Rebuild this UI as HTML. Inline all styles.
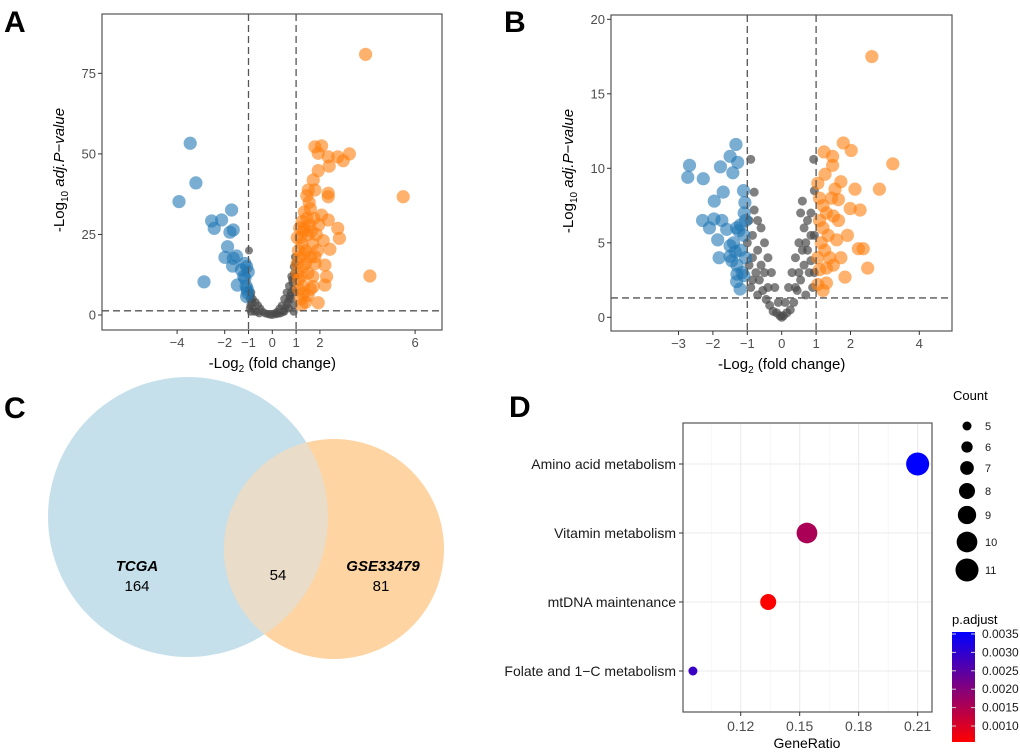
<!DOCTYPE html>
<html><head><meta charset="utf-8"><style>
body{margin:0;background:#fff;}
svg{display:block;font-family:"Liberation Sans",Arial,sans-serif;}
</style></head><body>
<svg id="fig" width="1020" height="752" viewBox="0 0 1020 752">
<text x="4" y="32" font-size="30" font-weight="bold">A</text>
<text x="504" y="32" font-size="30" font-weight="bold">B</text>
<text x="4" y="418" font-size="30" font-weight="bold">C</text>
<text x="509" y="417" font-size="30" font-weight="bold">D</text>
<g id="pa"></g>
<g id="pb"></g>
<g>
<circle cx="188" cy="517" r="140" fill="#c6e0eb"/>
<circle cx="334" cy="549" r="110" fill="#fdd4a2"/>
<clipPath id="cl"><circle cx="188" cy="517" r="140"/></clipPath>
<circle cx="334" cy="549" r="110" fill="#e9dcc8" clip-path="url(#cl)"/>
<text x="137" y="571" font-size="15" font-weight="bold" font-style="italic" text-anchor="middle">TCGA</text>
<text x="137" y="591" font-size="15" text-anchor="middle">164</text>
<text x="278" y="580" font-size="15" text-anchor="middle">54</text>
<text x="383" y="571" font-size="15" font-weight="bold" font-style="italic" text-anchor="middle">GSE33479</text>
<text x="381" y="591" font-size="15" text-anchor="middle">81</text>
</g>
<g id="pd"></g>
</svg>
<script>
const NS="http://www.w3.org/2000/svg";
function mk(p,t,a,txt){const e=document.createElementNS(NS,t);for(const k in a)e.setAttribute(k,a[k]);if(txt!==undefined)e.textContent=txt;p.appendChild(e);return e;}

// Panel A data
const aGrayX=[-0.98,-1,-0.9,-0.85,-0.8,-0.7,-0.6,-0.5,-0.4,-0.3,-0.2,0,0.1,0.2,0.3,0.4,0.5,0.6,0.7,0.8,0.9,0.95,0.85,0.75,0.65,0.55,0.45,0.35,-0.95,-0.75,0.9,0.8,0.95,0.7,-0.65,-0.55,0.15,-0.1,0.25,-0.9,0.9,0.98,-0.95,0.6,0.5,0.97,0.92,0.88,0.83,0.78,0.72,-0.92,-0.88,-0.82];
const aGrayY=[20,8,6,4,2,4,3,2,1,0.5,0.3,0,0.5,1,2,3,5,7,9,12,15,18,10,6,4,2,1,0.5,2,1,3,5,7,2,1,0.5,0.2,0.1,0.4,1,1,12,5,3,1,16,13,8,11,7,5,3,7,5];
const aBlueX=[-3.45,-3.21,-3.92,-2.87,-1.71,-2.13,-2.55,-2.44,-1.64,-1.78,-1.88,-1.99,-1.5,-1.64,-1.67,-1.08,-1.01,-1.15,-1.47,-1.08,-1.05,-1.2,-1.1,-1.3,-1.05,-1.15];
const aBlueY=[53.3,41,35.2,10.3,32.6,29.5,29.2,26.9,26.4,25.7,21.2,17.9,18.3,17.6,15.2,15,13.4,11.4,9.3,5.7,8,12,9,14,7,16];
const aOrX=[3.92,5.5,4.1,1.93,1.79,2.07,1.93,2.35,2.75,3.24,2.98,2.39,1.93,1.72,1.51,1.79,2.35,2.35,2.07,2.35,2.75,2.82,2.14,2.42,1.79,2.21,2.28,2.21,1.72,1.23,1.3,1.1,1.2,1.3,1.15,1.4,1.25,1.5,1.35,1.45,1.6,1.55,1.3,1.2,1.1,1.05,1.4,1.5,1.6,1.7,1.65,1.75,1.55,1.45,1.35,1.25,1.15,1.05,1.1,1.3,1.5,1.7,1.8,1.9,1.85,1.95,1.2,1.4,1.6,1.05,1.35];
const aOrY=[80.9,36.7,12.1,3.8,52.2,52.5,50.2,49.1,49.1,50,47.9,46.2,44.8,41.9,38.8,38.8,37.8,36.7,31,29.5,26.9,23.8,23.1,20.4,18.1,15.5,11.9,9.3,8.8,3.1,6.7,8,12,15,18,20,22,25,27,30,33,28,26,24,20,16,16,13,18,22,26,30,35,37,32,29,27,24,11,9,6,12,16,20,25,28,5,4,8,13,19];
const aXTicks=[-4,-2,-1,0,1,2,6];
const aYTicks=[0,25,50,75];

// Panel B data
const bGrayX=[-0.9,0.93,-0.8,0.6,0.55,-0.8,-0.6,-0.5,-0.4,-0.3,-0.2,-0.1,0,0.1,0.2,0.3,0.4,0.5,0.65,0.75,0.85,0.95,-0.95,-0.85,-0.7,-0.75,-0.65,-0.55,-0.45,-0.35,-0.25,0.25,0.35,0.45,0.55,0.65,0.75,0.85,0.95,0.9,-0.9,-0.95,-0.6,0.6,-0.15,0.15,0.05,-0.05,0.7,-0.7,0.8,-0.85,0.95,-1,-0.5,0.5,0.4,-0.4,-0.7,0.7,-0.85,0.85];
const bGrayY=[10.6,10.6,8.4,7.8,7,7.2,6,5,4,3,2,1,0,1,2,3,4,5,6,6.5,7,8.5,6.5,5.5,4.5,3,2.5,1.8,1.2,0.8,0.4,0.5,1,1.8,2.5,3.5,4.5,5.5,3,2,2,3.5,3.5,4.5,0.3,0.3,0.1,0.1,1.5,1.5,3,4,5.5,5,3,3,2,2,6.5,5,2.5,3.8];
const bBlueX=[-2.68,-2.73,-2.28,-1.78,-1.33,-1.5,-1.28,-1.42,-1.11,-1.7,-1.96,-1.07,-1.09,-2.3,-1.97,-1.74,-2.1,-1.6,-1.86,-1.31,-1.82,-1.5,-1.21,-1.31,-1.1,-1.2,-1.3,-1.15,-1.4,-1.25,-1.05,-1.35,-1.1,-1.45,-1.2,-1.05,-1.5,-1.3];
const bBlueY=[10.2,9.4,9.3,10.1,11.6,10.8,10.4,9.7,8.5,8.4,7.8,7.7,7,6.5,6.6,6.5,6,5.9,5.2,6,4,4.1,1.9,2.4,5.5,4.5,3.5,3,5,5.8,4,4.4,2.8,3.8,6.2,6.5,4.8,2.9];
const bOrX=[2.62,3.23,2.84,1.79,2.02,1.23,1.48,1.48,1.26,1.72,2.13,1.65,1.99,2.28,2.23,2.37,2.5,1.84,1.72,1.91,1.65,1.05,1.1,1.2,1.3,1.1,1.2,1.35,1.15,1.25,1.4,1.05,1.1,1.3,1.5,1.6,1.5,1.45,1.05,1.2,1.3,1.55];
const bOrY=[17.5,10.3,8.6,11.7,11.2,11.1,10.8,10.2,9.6,9.1,8.6,7.9,7.3,7.2,4.6,4.6,3.3,2.7,4,5.5,6.5,9,8,7.5,7,6.5,6,5.5,5,4.5,4,4,3.2,3.3,3.5,5.2,6.8,8,2.2,1.8,2.3,8.6];
const bXTicks=[-3,-2,-1,0,1,2,4];
const bYTicks=[0,5,10,15,20];

function volcano(g,o){
  const sx=v=>o.x0+v*o.ux, sy=v=>o.y0-v*o.uy;
  mk(g,'rect',{x:o.L,y:o.T,width:o.R-o.L,height:o.B-o.T,fill:'#fff',stroke:'#555','stroke-width':1.2});
  const cp=mk(g,'clipPath',{id:o.id+'c'});mk(cp,'rect',{x:o.L,y:o.T,width:o.R-o.L,height:o.B-o.T});
  const pts=mk(g,'g',{'clip-path':'url(#'+o.id+'c)'});
  o.gx.forEach((x,i)=>{const c=mk(pts,'circle',{cx:sx(x),cy:sy(o.gy[i]),r:o.gr,fill:'#4a4a4a','fill-opacity':0.7});
    
    });
  o.bx.forEach((x,i)=>{const c=mk(pts,'circle',{cx:sx(x),cy:sy(o.by[i]),r:6.6,fill:'#1f77b4','fill-opacity':0.6});
    
    });
  o.ox.forEach((x,i)=>{const c=mk(pts,'circle',{cx:sx(x),cy:sy(o.oy[i]),r:6.6,fill:'#ff7f0e','fill-opacity':0.6});
    
    });
  [-1,1].forEach(v=>{const l=mk(g,'line',{x1:sx(v),x2:sx(v),y1:o.T,y2:o.B,stroke:'#555','stroke-width':1.3,'stroke-dasharray':'7,4'});
    
    });
  const h=mk(g,'line',{x1:o.L,x2:o.R,y1:sy(1.3),y2:sy(1.3),stroke:'#555','stroke-width':1.3,'stroke-dasharray':'7,4'});
  
  
  o.xt.forEach(v=>{mk(g,'line',{x1:sx(v),x2:sx(v),y1:o.B,y2:o.B+4,stroke:'#333'});
    const t=mk(g,'text',{x:sx(v),y:o.B+17,'font-size':13,fill:'#4d4d4d','text-anchor':'middle'},v<0?'\u2212'+(-v):String(v));
    
    });
  o.yt.forEach(v=>{mk(g,'line',{x1:o.L-4,x2:o.L,y1:sy(v),y2:sy(v),stroke:'#333'});
    const t=mk(g,'text',{x:o.L-6,y:sy(v)+4.5,'font-size':13,fill:'#4d4d4d','text-anchor':'end'},String(v));
    
    });
  const xt=mk(g,'text',{x:o.x0,y:o.B+38,'font-size':15,'text-anchor':'middle'});
  xt.innerHTML='-Log<tspan font-size="10" dy="4">2</tspan><tspan dy="-4"> (fold change)</tspan>';
  
  
  const cy=(o.T+o.B)/2-2;
  const yt=mk(g,'text',{x:0,y:0,'font-size':15,'text-anchor':'middle',transform:`translate(${o.L-38},${cy}) rotate(-90)`});
  yt.innerHTML='-Log<tspan font-size="10" dy="4">10</tspan><tspan dy="-4" font-style="italic"> adj.P</tspan><tspan font-style="italic">\u2212value</tspan>';
  
  
}
volcano(document.getElementById('pa'),{id:'a',L:102,R:442,T:14,B:330,x0:272.3,ux:23.8,y0:315,uy:3.222,gx:aGrayX,gy:aGrayY,bx:aBlueX,by:aBlueY,ox:aOrX,oy:aOrY,xt:aXTicks,yt:aYTicks,gr:4});
volcano(document.getElementById('pb'),{id:'b',L:611,R:952,T:15,B:331,x0:781.7,ux:34.4,y0:317.3,uy:14.9,gx:bGrayX,gy:bGrayY,bx:bBlueX,by:bBlueY,ox:bOrX,oy:bOrY,xt:bXTicks,yt:bYTicks,gr:4.5});

// Panel D data
const dTerms=['Amino acid metabolism','Vitamin metabolism','mtDNA maintenance','Folate and 1\u2212C metabolism'];
const dRatio=[0.21,0.1537,0.134,0.0957];
const dCount=[11,10,8,5];
const dPadj=[0.0035,0.0017,0.0008,0.0029];
const dXTicks=[0.12,0.15,0.18,0.21];
const dCountLegend=[5,6,7,8,9,10,11];
const dPadjTicks=[0.0035,0.003,0.0025,0.002,0.0015,0.001];
(function(){
  const g=document.getElementById('pd');
  const L=683,R=932,T=423,B=712;
  const sx=v=>740.7+(v-0.12)*1966;
  const sy=i=>464+i*69;
  const rs=c=>4.5+(c-5)*1.17;
  const col=p=>{const t=Math.max(0,Math.min(1,(p-0.0008)/(0.0035-0.0008)));return `rgb(${Math.round(255*(1-t))},0,${Math.round(255*t)})`;};
  mk(g,'rect',{x:L,y:T,width:R-L,height:B-T,fill:'#fff'});
  dXTicks.forEach((v,i)=>{mk(g,'line',{x1:sx(v),x2:sx(v),y1:T,y2:B,stroke:'#ebebeb','stroke-width':1.1});
    if(i<dXTicks.length-1){const m=sx(v+0.015);mk(g,'line',{x1:m,x2:m,y1:T,y2:B,stroke:'#f2f2f2','stroke-width':0.6});}});
  mk(g,'line',{x1:sx(0.105),x2:sx(0.105),y1:T,y2:B,stroke:'#f2f2f2','stroke-width':0.6});
  dTerms.forEach((t,i)=>{mk(g,'line',{x1:L,x2:R,y1:sy(i),y2:sy(i),stroke:'#ebebeb','stroke-width':1.1});});
  mk(g,'rect',{x:L,y:T,width:R-L,height:B-T,fill:'none',stroke:'#555','stroke-width':1.2});
  dTerms.forEach((t,i)=>{
    mk(g,'line',{x1:L-4,x2:L,y1:sy(i),y2:sy(i),stroke:'#333'});
    const tx=mk(g,'text',{x:L-7,y:sy(i)+5,'font-size':14,'text-anchor':'end',fill:'#1a1a1a'},t);
    
    
    const c=mk(g,'circle',{cx:sx(dRatio[i]),cy:sy(i),r:rs(dCount[i]),fill:col(dPadj[i])});
    
    
  });
  dXTicks.forEach(v=>{mk(g,'line',{x1:sx(v),x2:sx(v),y1:B,y2:B+4,stroke:'#333'});
    const t=mk(g,'text',{x:sx(v),y:B+19,'font-size':14,'text-anchor':'middle',fill:'#4d4d4d'},v.toFixed(2));
    
    });
  const xt=mk(g,'text',{x:807,y:748,'font-size':14,'text-anchor':'middle'},'GeneRatio');
  
  
  const lt=mk(g,'text',{x:953,y:400,'font-size':13},'Count');
  
  
  const ly=[426,447,468,491,515,542,570];
  dCountLegend.forEach((c,i)=>{const d=mk(g,'circle',{cx:967,cy:ly[i],r:rs(c),fill:'#000'});
    
    
    const t=mk(g,'text',{x:985,y:ly[i]+4,'font-size':11,fill:'#1a1a1a'},String(c));
    
    });
  const pt=mk(g,'text',{x:952,y:624,'font-size':13},'p.adjust');
  
  
  const gr=mk(g,'linearGradient',{id:'pg',x1:0,y1:0,x2:0,y2:1});
  mk(gr,'stop',{offset:'0','stop-color':'#0000ff'});mk(gr,'stop',{offset:'1','stop-color':'#ff0000'});
  const cb=mk(g,'rect',{x:952,y:632,width:23,height:110,fill:'url(#pg)'});
  
  
  const py=v=>634+(0.0035-v)/0.0005*18.4;
  dPadjTicks.forEach(v=>{mk(g,'line',{x1:952,x2:956,y1:py(v),y2:py(v),stroke:'#ccc'});mk(g,'line',{x1:971,x2:975,y1:py(v),y2:py(v),stroke:'#ccc'});
    const t=mk(g,'text',{x:982,y:py(v)+4,'font-size':12,fill:'#1a1a1a'},v.toFixed(4));
    
    });
})();
</script>
</body></html>
